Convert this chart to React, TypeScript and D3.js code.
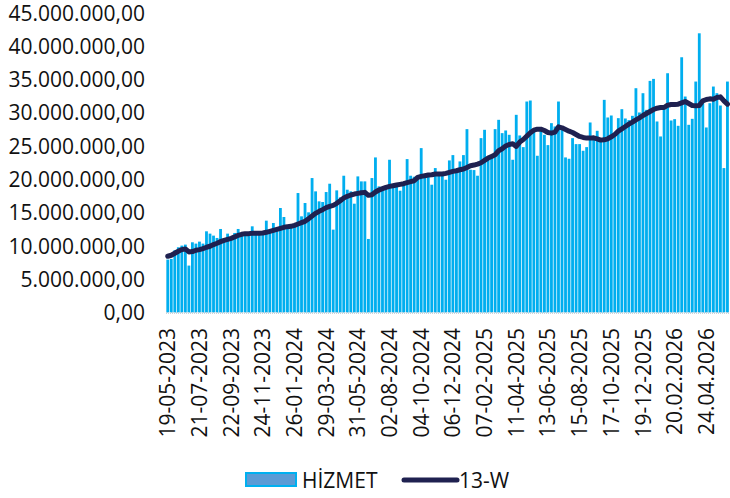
import React from "react";
import * as d3 from "d3";

// weekly values, millions
const hizmet = [
  7.95, 8.05, 9.35, 9.8, 10.05, 10.2, 7.05, 10.55, 10.35, 10.65,
  10.35, 12.2, 11.85, 11.55, 11.2, 12.55, 11.0, 11.85, 11.3, 11.95,
  12.55, 11.8, 11.9, 11.9, 12.95, 12.0, 12.1, 12.1, 13.8, 12.3,
  13.45, 12.6, 15.7, 14.35, 13.0, 13.1, 13.3, 17.95, 14.45, 16.45,
  15.05, 20.2, 18.2, 16.7, 16.6, 18.1, 19.35, 12.45, 18.35, 17.3,
  20.55, 18.45, 18.2, 16.35, 20.45, 19.7, 19.7, 11.05, 20.2, 23.3,
  18.95, 18.7, 19.0, 22.95, 19.2, 19.3, 18.3, 19.5, 23.05, 20.55,
  20.4, 20.5, 24.7, 20.6, 20.8, 19.2, 21.7, 20.95, 20.8, 19.95,
  22.85, 23.65, 21.3, 22.7, 23.65, 27.55, 21.45, 21.4, 20.55, 26.2,
  27.45, 23.0, 23.5, 27.55, 28.95, 26.95, 27.35, 26.7, 22.95, 29.7,
  26.6, 24.85, 31.7, 31.85, 27.5, 23.55, 27.7, 26.7, 25.15, 28.45,
  27.95, 31.7, 27.45, 23.3, 23.1, 26.2, 25.3, 25.3, 24.3, 24.85,
  28.55, 26.2, 27.3, 25.9, 31.95, 29.3, 29.6, 26.45, 29.2, 30.55,
  29.15, 28.9, 29.55, 33.7, 30.05, 32.95, 30.45, 34.8, 35.1, 28.7,
  26.45, 30.95, 35.95, 28.85, 29.05, 28.05, 38.35, 32.45, 28.2, 29.1,
  34.7, 41.95, 31.45, 27.8, 31.45, 33.95, 32.95, 31.1, 21.7, 34.7,
];

const w13 = [
  8.45, 8.6, 8.9, 9.2, 9.45, 9.55, 9.1, 9.15, 9.35, 9.45,
  9.6, 9.8, 9.95, 10.2, 10.4, 10.65, 10.85, 11.0, 11.15, 11.35,
  11.6, 11.75, 11.85, 11.85, 11.9, 11.9, 11.9, 11.95, 12.05, 12.2,
  12.35, 12.5, 12.65, 12.8, 12.9, 12.95, 13.1, 13.3, 13.5, 13.7,
  14.1, 14.5, 14.9, 15.2, 15.45, 15.75, 15.95, 16.1, 16.4, 16.8,
  17.2, 17.45, 17.65, 17.8, 17.9, 18.0, 18.05, 17.6, 17.7, 18.1,
  18.4, 18.6, 18.8, 18.95, 19.05, 19.15, 19.25, 19.35, 19.5, 19.65,
  19.8, 20.3, 20.45, 20.55, 20.65, 20.7, 20.8, 20.8, 20.8, 20.9,
  21.05, 21.2, 21.3, 21.45, 21.55, 21.8, 22.05, 22.15, 22.3, 22.5,
  22.85, 23.2, 23.45, 23.7, 24.3, 24.6, 25.0, 25.25, 25.35, 24.95,
  25.6, 26.0, 26.5, 27.0, 27.4, 27.55, 27.55, 27.35, 27.05, 26.95,
  27.1, 27.9, 27.75, 27.5, 27.25, 27.05, 26.75, 26.45, 26.3, 26.2,
  26.2, 26.25, 26.1, 25.9, 25.95, 26.1, 26.4, 26.75, 27.25, 27.6,
  27.95, 28.3, 28.6, 28.95, 29.25, 29.6, 29.9, 30.2, 30.5, 30.7,
  30.8, 30.8, 31.15, 31.25, 31.25, 31.3, 31.5, 31.7, 31.4, 31.1,
  31.05, 31.1, 31.8, 32.0, 32.1, 32.05, 32.3, 32.4, 31.8, 31.3,
];

const tickLabels = [
  "19-05-2023", "21-07-2023", "22-09-2023", "24-11-2023", "26-01-2024",
  "29-03-2024", "31-05-2024", "02-08-2024", "04-10-2024", "06-12-2024",
  "07-02-2025", "11-04-2025", "13-06-2025", "15-08-2025", "17-10-2025",
  "19-12-2025", "20.02.2026", "24.04.2026",
];
const tickEvery = 9;
const yTicks = [0, 5, 10, 15, 20, 25, 30, 35, 40, 45];

const W = 730, H = 498;
const font = "'Open Sans', 'Noto Sans', sans-serif";
const barColor = "#00AEEF";
const lineColor = "#1F2150";

const trFmt = d3
  .formatLocale({ decimal: ",", thousands: ".", grouping: [3], currency: ["", ""] })
  .format(",.2f");

export default function App() {
  const idx = hizmet.map((_, i) => i);
  const x = d3.scaleBand<number>().domain(idx).range([166, 729.2]).paddingInner(0.2).paddingOuter(0.1);
  const y = d3.scaleLinear().domain([0, 45]).range([312.5, 13]);
  const cx = (i: number) => (x(i) as number) + x.bandwidth() / 2;

  const line = d3
    .line<number>()
    .x((_, i) => cx(i))
    .y((d) => y(d));

  return (
    <svg
      width={W}
      height={H}
      style={{ position: "absolute", left: 0, top: 0, background: "#fff" }}
      fontFamily={font}
    >
      {/* y labels */}
      {yTicks.map((t) => (
        <text key={t} x={145} y={y(t)} dy="0.36em" textAnchor="end" fontSize={21} fill="#111">
          {trFmt(t * 1e6)}
        </text>
      ))}

      {/* bars */}
      {hizmet.map((v, i) => (
        <rect
          key={i}
          x={x(i)}
          y={y(v)}
          width={x.bandwidth()}
          height={y(0) - y(v)}
          fill={barColor}
        />
      ))}

      {/* baseline */}
      <line x1={166} x2={730} y1={y(0) + 0.5} y2={y(0) + 0.5} stroke="#C9D3DA" strokeWidth={2} strokeDasharray="1 1" />

      {/* 13 week line */}
      <path d={line(w13) || ""} fill="none" stroke={lineColor} strokeWidth={5} strokeLinejoin="round" strokeLinecap="round" />

      {/* x labels */}
      {tickLabels.map((lab, k) => {
        const px = cx(k * tickEvery);
        return (
          <text
            key={lab}
            transform={`translate(${px},328) rotate(-90)`}
            textAnchor="end"
            dy="0.36em"
            fontSize={21}
            fill="#111"
          >
            {lab}
          </text>
        );
      })}

      {/* legend */}
      <rect x={246} y={473} width={50} height={13} fill="#5B9BD5" stroke="#00B0F0" strokeWidth={2} />
      <text x={302} y={480} dy="0.36em" fontSize={21} fill="#111">HİZMET</text>
      <line x1={404} x2={457} y1={480} y2={480} stroke={lineColor} strokeWidth={5} strokeLinecap="round" />
      <text x={459} y={480} dy="0.36em" fontSize={21} fill="#111">13-W</text>
    </svg>
  );
}
